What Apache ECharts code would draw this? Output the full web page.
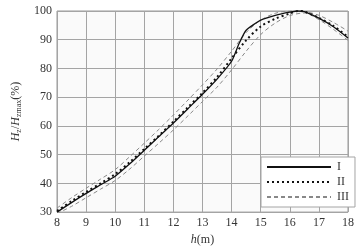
<!DOCTYPE html>
<html>
<head>
<meta charset="utf-8">
<script src="https://cdn.jsdelivr.net/npm/echarts@6/dist/echarts.min.js"></script>
<style>
  html, body { margin: 0; padding: 0; background: #fff; }
  #chart { width: 358px; height: 251px; }
</style>
</head>
<body>
<div id="chart"></div>
<script>
// h (m) sample positions
const hI = [8, 8.5, 9, 9.5, 10, 10.5, 11, 11.5, 12, 12.5, 13, 13.5, 14, 14.25, 14.5, 15, 15.5, 16, 16.3, 16.5, 17, 17.5, 18];
const seriesI = [30, 33.3, 36.5, 39.5, 42.5, 46.8, 51.5, 56.3, 61, 66, 71, 76.3, 82.5, 88.5, 93.3, 96.8, 98.5, 99.6, 100, 99.8, 97.5, 94.5, 90.6];

const hII = [8, 8.5, 9, 9.5, 10, 10.5, 11, 11.5, 12, 12.5, 13, 13.5, 14, 14.5, 15, 15.5, 16, 16.3, 16.5, 17, 17.5, 18];
const seriesII = [30.4, 33.8, 37, 40, 43.2, 47.4, 52, 56.6, 61.5, 66.5, 71.5, 77, 83.5, 89.8, 94.6, 97.3, 99.1, 100, 99.8, 97.6, 94.8, 91];

const hIII = [8, 8.5, 9, 9.5, 10, 10.5, 11, 11.5, 12, 12.5, 13, 13.5, 14, 14.5, 15, 15.5, 16, 16.5, 17, 17.5, 18];
const seriesIIIupper = [31.4, 35, 38.3, 41.5, 44.8, 49.3, 54, 58.8, 63.8, 69, 74.3, 79.8, 86, 92.5, 96.8, 99.2, 100, 99.8, 98.5, 96, 93];
const seriesIIIlower = [29.5, 32, 35, 38, 41, 45, 49.5, 54, 58.6, 63.5, 68.5, 73.5, 79.5, 86, 91.8, 95.8, 98.4, 99.3, 97, 93.6, 89.8];

const xTicks = [8, 9, 10, 11, 12, 13, 14, 15, 16, 17, 18];
const yTicks = [30, 40, 50, 60, 70, 80, 90, 100];

function pairs(xs, ys) {
  return xs.map(function (x, i) { return [x, ys[i]]; });
}

const font = "Liberation Serif";
const chart = echarts.init(document.getElementById("chart"));

chart.setOption({
  animation: false,
  textStyle: { fontFamily: font },
  grid: {
    left: 57,
    right: 10,
    top: 11,
    bottom: 37,
    show: true,
    backgroundColor: "#fafafa",
    borderColor: "#999",
    borderWidth: 1,
  },
  xAxis: {
    type: "value",
    min: xTicks[0],
    max: xTicks[xTicks.length - 1],
    interval: 1,
    name: "{i|h}(m)",
    nameLocation: "middle",
    nameGap: 20,
    nameTextStyle: {
      fontFamily: font,
      fontSize: 12,
      color: "#333",
      rich: { i: { fontFamily: font, fontStyle: "italic", fontSize: 12, color: "#333" } },
    },
    axisLine: { show: false },
    axisTick: { show: false },
    axisLabel: { fontFamily: font, fontSize: 12, color: "#333", margin: 5 },
    splitLine: { show: true, lineStyle: { color: "#a4a4a4", width: 1 } },
  },
  yAxis: {
    type: "value",
    min: yTicks[0],
    max: yTicks[yTicks.length - 1],
    interval: 10,
    name: "{i|H}{s|z}/{i|H}{s|zmax}(%)",
    nameLocation: "middle",
    nameGap: 28,
    nameRotate: 90,
    nameTextStyle: {
      fontFamily: font,
      fontSize: 12,
      color: "#333",
      rich: {
        i: { fontFamily: font, fontStyle: "italic", fontSize: 12, color: "#333", lineHeight: 14 },
        s: { fontFamily: font, fontSize: 8, color: "#333", verticalAlign: "bottom", lineHeight: 14, padding: [6, 0, 0, 0] },
      },
    },
    axisLine: { show: false },
    axisTick: { show: false },
    axisLabel: { fontFamily: font, fontSize: 12, color: "#333", margin: 5 },
    splitLine: { show: true, lineStyle: { color: "#a4a4a4", width: 1 } },
  },
  legend: {
    orient: "vertical",
    left: 261,
    top: 157,
    width: 87,
    padding: [4, 6, 4, 5],
    itemWidth: 64,
    itemHeight: 14,
    itemGap: 3,
    backgroundColor: "#fff",
    borderColor: "#a4a4a4",
    borderWidth: 1,
    borderRadius: 0,
    itemStyle: { opacity: 0 },
    textStyle: { fontFamily: font, fontSize: 12, color: "#333", padding: [0, 0, 0, 1] },
    data: ["I", "II", "III"],
  },
  series: [
    {
      name: "III",
      type: "line",
      symbol: "none",
      smooth: 0.3,
      data: pairs(hIII, seriesIIIupper),
      lineStyle: { color: "#888", width: 1, type: [4, 3] },
    },
    {
      name: "III",
      type: "line",
      symbol: "none",
      smooth: 0.3,
      data: pairs(hIII, seriesIIIlower),
      lineStyle: { color: "#888", width: 1, type: [4, 3] },
    },
    {
      name: "II",
      type: "line",
      symbol: "none",
      smooth: 0.3,
      data: pairs(hII, seriesII),
      lineStyle: { color: "#111", width: 2, type: [2, 3] },
    },
    {
      name: "I",
      type: "line",
      symbol: "none",
      smooth: 0.2,
      data: pairs(hI, seriesI),
      lineStyle: { color: "#111", width: 1.3, type: "solid" },
    },
  ],
});
</script>
</body>
</html>
